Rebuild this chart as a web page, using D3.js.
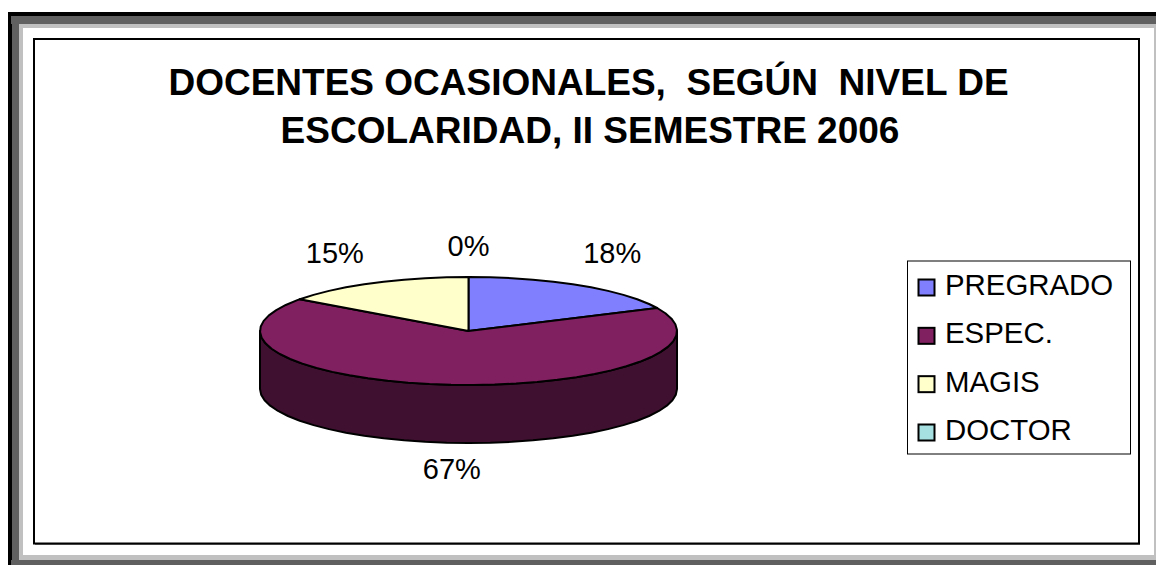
<!DOCTYPE html>
<html>
<head>
<meta charset="utf-8">
<script src="https://cdn.jsdelivr.net/npm/d3@7"></script>
<style>
html, body { margin: 0; padding: 0; background: #fff; overflow: hidden; }
text { font-family: "Liberation Sans", Arial, sans-serif; fill: #000; }
</style>
</head>
<body>
<svg id="chart" width="1156" height="565"></svg>
<script>
const CATEGORIES = ["PREGRADO", "ESPEC.", "MAGIS", "DOCTOR"];
const VALUES = [18, 67, 15, 0];
const TITLE_LINES = ["DOCENTES OCASIONALES,  SEGÚN  NIVEL DE", "ESCOLARIDAD, II SEMESTRE 2006"];
const COLORS = ["#8080ff", "#802060", "#ffffcc", "#a6e0e0"];
const SIDE_COLORS = ["#404080", "#401030", "#808066", "#507070"];

const svg = d3.select("#chart").style("display", "block");

function box(x, y, w, h, fill){
    svg.append("rect").attr("x", x).attr("y", y).attr("width", w).attr("height", h).attr("fill", fill);
}

// picture frame, outermost first
box(8, 12, 1148, 553, "#000");
box(12, 16, 1144, 549, "#606060");
box(11, 16, 9, 8, "#606060");
box(11, 560, 9, 5, "#606060");
box(19, 24, 1137, 536, "#c0c0c0");
box(23, 28, 1131, 527, "#fff");

// chart area
box(35, 41, 1105, 504, "#808080");
svg.append("rect")
    .attr("x", 34).attr("y", 39).attr("width", 1105).attr("height", 504.5)
    .attr("fill", "#fff").attr("stroke", "#000").attr("stroke-width", 2);

svg.append("g").selectAll("text")
    .data(TITLE_LINES)
    .join("text")
    .attr("x", (d, i) => i ? 590 : 588.5)
    .attr("y", (d, i) => 95 + i * 48)
    .attr("text-anchor", "middle")
    .attr("font-size", 37)
    .attr("font-weight", "bold")
    .style("white-space", "pre")
    .text(d => d);

// pie, unit circle squashed through two scales
const px = d3.scaleLinear().domain([-1, 1]).range([260, 677]);
const py = d3.scaleLinear().domain([-1, 1]).range([277, 385]);
const DEPTH = 58;
const STEP = Math.PI / 30;

const pie = d3.pie().sort(null).value(d => d);
const slices = pie(VALUES);

function rim(a0, a1, dy){
    const angles = d3.range(a0, a1, STEP).concat([a1]);
    return angles.map(a => [px(Math.sin(a)), py(-Math.cos(a)) + dy]);
}

const line = d3.line();
const pieG = svg.append("g")
    .attr("stroke", "#000")
    .attr("stroke-width", 2)
    .attr("stroke-linejoin", "round");

// front wall
slices.forEach((s, i) => {
    const a0 = Math.max(s.startAngle, Math.PI / 2);
    const a1 = Math.min(s.endAngle, Math.PI * 1.5);
    if (a1 <= a0) return;
    const pts = rim(a0, a1, 0).concat(rim(a0, a1, DEPTH).reverse());
    pieG.append("path").attr("d", line(pts) + "Z").attr("fill", SIDE_COLORS[i]);
});

// top
slices.forEach((s, i) => {
    if (s.endAngle === s.startAngle) return;
    const pts = [[px(0), py(0)]].concat(rim(s.startAngle, s.endAngle, 0));
    pieG.append("path").attr("d", line(pts) + "Z").attr("fill", COLORS[i]);
});

// data labels, nudged off the rim point of each slice
const LABEL_NUDGE = [[32, -22], [3, 94], [-39, -20], [0, -21]];
svg.append("g").selectAll("text")
    .data(slices)
    .join("text")
    .attr("x", (s, i) => px(Math.sin((s.startAngle + s.endAngle) / 2)) + LABEL_NUDGE[i][0])
    .attr("y", (s, i) => py(-Math.cos((s.startAngle + s.endAngle) / 2)) + LABEL_NUDGE[i][1])
    .attr("text-anchor", "middle")
    .attr("font-size", 29)
    .text(s => s.value + "%");

// legend
const legend = svg.append("g");
legend.append("rect")
    .attr("x", 907.5).attr("y", 261).attr("width", 223).attr("height", 193)
    .attr("fill", "#fff").attr("stroke", "#000").attr("stroke-width", 1);
const ly = d3.scalePoint().domain(CATEGORIES).range([287.5, 432.5]);
const rows = legend.selectAll("g").data(CATEGORIES).join("g")
    .attr("transform", d => `translate(0,${ly(d)})`);
rows.append("rect")
    .attr("x", 918.5).attr("y", -8).attr("width", 16).attr("height", 16)
    .attr("fill", (d, i) => COLORS[i])
    .attr("stroke", "#000").attr("stroke-width", 2);
rows.append("text")
    .attr("x", 945).attr("y", 7.5)
    .attr("font-size", 29.4)
    .text(d => d);
</script>
</body>
</html>
